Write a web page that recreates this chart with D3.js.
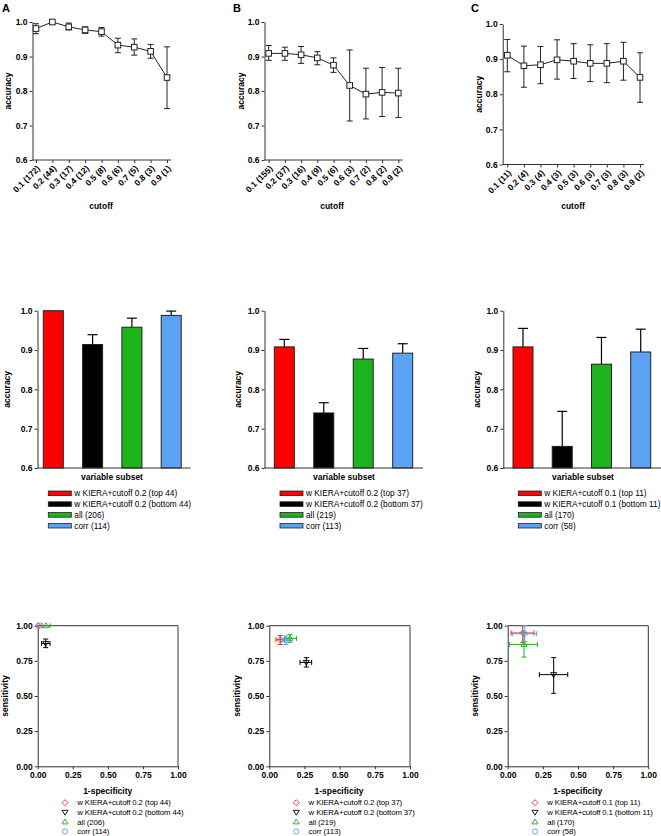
<!DOCTYPE html>
<html><head><meta charset="utf-8">
<script src="https://cdn.jsdelivr.net/npm/d3@7"></script>
<style>
body{margin:0;background:#fff}
text{font-family:"Liberation Sans",Arial,sans-serif}
</style>
</head><body>
<svg id="c" width="661" height="836"></svg>
<script>
// ---------- DATA ----------
const cutoffLabelsA = ["0.1  (172)","0.2  (44)","0.3  (17)","0.4  (12)","0.5  (8)","0.6  (6)","0.7  (5)","0.8  (3)","0.9  (1)"];
const accA   = [0.981,1.000,0.986,0.977,0.972,0.933,0.927,0.915,0.839];
const accLoA = [0.966,1.000,0.977,0.967,0.959,0.911,0.904,0.895,0.749];
const accHiA = [0.995,1.000,0.997,0.986,0.984,0.953,0.951,0.935,0.928];

const cutoffLabelsB = ["0.1  (155)","0.2  (37)","0.3  (16)","0.4  (9)","0.5  (6)","0.6  (3)","0.7  (2)","0.8  (2)","0.9  (2)"];
const accB   = [0.909,0.909,0.905,0.896,0.875,0.816,0.791,0.796,0.794];
const accLoB = [0.889,0.889,0.880,0.876,0.854,0.713,0.719,0.726,0.723];
const accHiB = [0.932,0.927,0.929,0.914,0.896,0.919,0.866,0.868,0.866];

const cutoffLabelsC = ["0.1 (11)","0.2 (4)","0.3 (4)","0.4 (3)","0.5 (3)","0.6 (3)","0.7 (3)","0.8 (3)","0.9 (2)"];
const accC   = [0.911,0.881,0.884,0.898,0.894,0.888,0.888,0.894,0.848];
const accLoC = [0.864,0.820,0.830,0.843,0.845,0.836,0.833,0.840,0.777];
const accHiC = [0.956,0.937,0.936,0.955,0.944,0.941,0.944,0.948,0.918];

const accTicks = [0.6,0.7,0.8,0.9,1.0];

const subsetNamesA = ["w KIERA+cutoff 0.2 (top 44)","w KIERA+cutoff 0.2 (bottom 44)","all (206)","corr (114)"];
const subsetAccA   = [1.000,0.914,0.958,0.988];
const subsetHiA    = [1.000,0.939,0.981,0.999];
const subsetNamesB = ["w KIERA+cutoff 0.2 (top 37)","w KIERA+cutoff 0.2 (bottom 37)","all (219)","corr (113)"];
const subsetAccB   = [0.908,0.740,0.877,0.892];
const subsetHiB    = [0.927,0.766,0.904,0.916];
const subsetNamesC = ["w KIERA+cutoff 0.1 (top 11)","w KIERA+cutoff 0.1 (bottom 11)","all (170)","corr (58)"];
const subsetAccC   = [0.908,0.655,0.864,0.895];
const subsetHiC    = [0.955,0.744,0.932,0.953];
const subsetColors = ["#ff0000","#000000","#1db31d","#5ba3f2"];
const markerColors = ["#e0282c","#000000","#22aa22","#5a9ee8"];
const markerShapes = ["diamond","triDown","triUp","circle"];

const fprA    = [0.003,0.057,0.059,0.017];
const fprLoA  = [0.003,0.028,0.035,0.017];
const fprHiA  = [0.003,0.088,0.088,0.017];
const sensA   = [1.000,0.874,1.000,1.000];
const sensLoA = [1.000,0.844,1.000,1.000];
const sensHiA = [1.000,0.905,1.000,1.000];

const fprB    = [0.078,0.263,0.147,0.118];
const fprLoB  = [0.047,0.218,0.111,0.095];
const fprHiB  = [0.107,0.301,0.194,0.147];
const sensB   = [0.900,0.739,0.910,0.898];
const sensLoB = [0.867,0.706,0.882,0.867];
const sensHiB = [0.931,0.773,0.938,0.927];

const fprC    = [0.107,0.327,0.116,0.121];
const fprLoC  = [0.024,0.225,0.014,0.033];
const fprHiC  = [0.187,0.427,0.211,0.206];
const sensC   = [0.948,0.652,0.867,0.943];
const sensLoC = [0.882,0.519,0.777,0.886];
const sensHiC = [1.000,0.773,0.950,1.000];

const rocTicks = [0,0.25,0.5,0.75,1];
const panelLetters = ["A","B","C"];

// ---------- DRAW ----------
const svg = d3.select("#c");
const AX = "#333";
const FS = 8.5;

function styleAxis(g){
  g.selectAll("path,line").attr("stroke",AX).attr("stroke-width",1);
  g.selectAll("text").attr("fill","#000").style("font-size",FS+"px").style("font-weight","bold");
}

// Panel letters
[[2,12],[233,12],[471,12]].forEach((p,i)=>{
  svg.append("text").attr("x",p[0]).attr("y",p[1]).text(panelLetters[i])
    .style("font-size","11px").style("font-weight","bold");
});

// --- Top line charts ---
const topPanels = [
  {ax:32.5, top:22, bot:160, x0:36, x1:167, xe:171, labels:cutoffLabelsA, v:accA, lo:accLoA, hi:accHiA, ylx:8.5, xlx:101},
  {ax:264.5, top:22, bot:160, x0:268.7, x1:398.3, xe:402.7, labels:cutoffLabelsB, v:accB, lo:accLoB, hi:accHiB, ylx:241, xlx:332},
  {ax:502.7, top:24, bot:164.5, x0:507.3, x1:640, xe:644, labels:cutoffLabelsC, v:accC, lo:accLoC, hi:accHiC, ylx:479, xlx:573}
];
topPanels.forEach(p=>{
  const g = svg.append("g");
  const y = d3.scaleLinear().domain([0.6,1.0]).range([p.bot,p.top]);
  const x = d3.scalePoint().domain(p.labels).range([p.x0,p.x1]);
  const ya = g.append("g").attr("transform",`translate(${p.ax},0)`)
    .call(d3.axisLeft(y).tickValues(accTicks).tickFormat(d3.format(".1f")).tickSize(3).tickSizeOuter(0).tickPadding(2));
  styleAxis(ya);
  const xa = g.append("g").attr("transform",`translate(0,${p.bot})`)
    .call(d3.axisBottom(x).tickSize(3).tickSizeOuter(0));
  xa.select(".domain").remove();
  styleAxis(xa);
  xa.selectAll(".tick text").attr("text-anchor","end").attr("x",-3.5).attr("y",6.3).attr("dy","0.35em")
    .attr("transform","rotate(-45)");
  g.append("line").attr("x1",p.ax).attr("x2",p.xe).attr("y1",p.bot).attr("y2",p.bot).attr("stroke",AX);
  p.labels.forEach((l,i)=>{
    const cx = x(l);
    if (p.hi[i]-p.lo[i] > 0.002){
      g.append("line").attr("x1",cx).attr("x2",cx).attr("y1",y(p.lo[i])).attr("y2",y(p.hi[i])).attr("stroke","#222");
      [p.lo[i],p.hi[i]].forEach(e=>g.append("line").attr("x1",cx-3).attr("x2",cx+3).attr("y1",y(e)).attr("y2",y(e)).attr("stroke","#222"));
    }
  });
  g.append("path").datum(p.v).attr("fill","none").attr("stroke","#222").attr("stroke-width",1)
    .attr("d",d3.line().x((d,i)=>x(p.labels[i])).y(d=>y(d)));
  p.v.forEach((d,i)=>{
    g.append("rect").attr("x",x(p.labels[i])-2.8).attr("y",y(d)-2.8).attr("width",5.6).attr("height",5.6)
      .attr("fill","#fff").attr("stroke","#222").attr("stroke-width",1);
  });
  g.append("text").attr("transform",`translate(${p.ylx},${(p.top+p.bot)/2}) rotate(-90)`)
    .attr("text-anchor","middle").attr("dy","0.35em").text("accuracy").style("font-size",FS+"px").style("font-weight","bold");
  g.append("text").attr("x",p.xlx).attr("y",206).attr("text-anchor","middle").attr("dy","0.35em")
    .text("cutoff").style("font-size",FS+"px").style("font-weight","bold");
});

// --- Middle bar charts ---
const barPanels = [
  {ax:37.5, c0:53.3, c1:171.2, xe:190.7, names:subsetNamesA, v:subsetAccA, hi:subsetHiA, ylx:7, xlx:112, sw:48.3},
  {ax:264.5, c0:284.3, c1:402.7, xe:423, names:subsetNamesB, v:subsetAccB, hi:subsetHiB, ylx:238.5, xlx:344, sw:280},
  {ax:503.3, c0:523, c1:640.7, xe:661, names:subsetNamesC, v:subsetAccC, hi:subsetHiC, ylx:477.5, xlx:583, sw:518.3}
];
const bTop = 310.7, bBot = 468;
barPanels.forEach(p=>{
  const g = svg.append("g");
  const y = d3.scaleLinear().domain([0.6,1.0]).range([bBot,bTop]);
  const x = d3.scalePoint().domain(p.names).range([p.c0,p.c1]);
  const bw = 20;
  p.names.forEach((n,i)=>{
    const cx = x(n);
    if (p.hi[i]-p.v[i] > 0.002){
      g.append("line").attr("x1",cx).attr("x2",cx).attr("y1",y(p.v[i])).attr("y2",y(p.hi[i])).attr("stroke","#000").attr("stroke-width",1.2);
      g.append("line").attr("x1",cx-5).attr("x2",cx+5).attr("y1",y(p.hi[i])).attr("y2",y(p.hi[i])).attr("stroke","#000").attr("stroke-width",1.2);
    }
    g.append("rect").attr("x",cx-bw/2).attr("y",y(p.v[i])).attr("width",bw).attr("height",bBot-y(p.v[i]))
      .attr("fill",subsetColors[i]).attr("stroke","#222").attr("stroke-width",1);
  });
  const ya = g.append("g").attr("transform",`translate(${p.ax},0)`)
    .call(d3.axisLeft(y).tickValues(accTicks).tickFormat(d3.format(".1f")).tickSize(3).tickSizeOuter(0).tickPadding(2));
  styleAxis(ya);
  g.append("line").attr("x1",p.ax).attr("x2",p.xe).attr("y1",bBot).attr("y2",bBot).attr("stroke",AX);
  g.append("text").attr("transform",`translate(${p.ylx},${(bTop+bBot)/2}) rotate(-90)`)
    .attr("text-anchor","middle").attr("dy","0.35em").text("accuracy").style("font-size",FS+"px").style("font-weight","bold");
  g.append("text").attr("x",p.xlx).attr("y",477).attr("text-anchor","middle").attr("dy","0.35em")
    .text("variable subset").style("font-size",FS+"px").style("font-weight","bold");
  p.names.forEach((n,i)=>{
    const yy = 493.3 + i*10.8;
    g.append("rect").attr("x",p.sw).attr("y",yy-2.3).attr("width",23).attr("height",4.6)
      .attr("fill",subsetColors[i]).attr("stroke","#222").attr("stroke-width",0.8);
    g.append("text").attr("x",p.sw+26).attr("y",yy).attr("dy","0.35em").text(n).style("font-size","8.3px");
  });
});

// --- Bottom ROC scatter ---
const rocPanels = [
  {x0:37.7, x1:178, fpr:fprA, fl:fprLoA, fh:fprHiA, s:sensA, sl:sensLoA, sh:sensHiA, names:subsetNamesA, ylx:5, xlx:107.7, mx:65},
  {x0:269.3, x1:410, fpr:fprB, fl:fprLoB, fh:fprHiB, s:sensB, sl:sensLoB, sh:sensHiB, names:subsetNamesB, ylx:236.7, xlx:339, mx:296.3},
  {x0:507.7, x1:648.3, fpr:fprC, fl:fprLoC, fh:fprHiC, s:sensC, sl:sensLoC, sh:sensHiC, names:subsetNamesC, ylx:475, xlx:577.7, mx:535}
];
const rTop = 625.7, rBot = 766.3;
function marker(g, shape, cx, cy, color){
  const r = 2.6;
  let el;
  if (shape==="circle") el = g.append("circle").attr("cx",cx).attr("cy",cy).attr("r",r);
  else if (shape==="diamond") el = g.append("path").attr("d",`M${cx},${cy-r-0.4}L${cx+r+0.4},${cy}L${cx},${cy+r+0.4}L${cx-r-0.4},${cy}Z`);
  else if (shape==="triUp") el = g.append("path").attr("d",`M${cx},${cy-r-0.3}L${cx+r+0.4},${cy+r-0.6}L${cx-r-0.4},${cy+r-0.6}Z`);
  else el = g.append("path").attr("d",`M${cx},${cy+r+0.3}L${cx+r+0.4},${cy-r+0.6}L${cx-r-0.4},${cy-r+0.6}Z`);
  el.attr("fill","none").attr("stroke",color).attr("stroke-width",0.9);
}
rocPanels.forEach(p=>{
  const g = svg.append("g");
  const x = d3.scaleLinear().domain([0,1]).range([p.x0,p.x1]);
  const y = d3.scaleLinear().domain([0,1]).range([rBot,rTop]);
  const xa = g.append("g").attr("transform",`translate(0,${rBot})`)
    .call(d3.axisBottom(x).tickValues(rocTicks).tickFormat(d3.format(".2f")).tickSize(3).tickSizeOuter(0).tickPadding(3));
  styleAxis(xa);
  const ya = g.append("g").attr("transform",`translate(${p.x0},0)`)
    .call(d3.axisLeft(y).tickValues(rocTicks).tickFormat(d3.format(".2f")).tickSize(3).tickSizeOuter(0).tickPadding(2));
  styleAxis(ya);
  g.append("line").attr("x1",p.x0).attr("x2",p.x1).attr("y1",rTop).attr("y2",rTop).attr("stroke",AX);
  g.append("line").attr("x1",p.x1).attr("x2",p.x1).attr("y1",rTop).attr("y2",rBot).attr("stroke",AX);
  p.fpr.forEach((d,i)=>{
    const c = markerColors[i];
    const cx = x(d), cy = y(p.s[i]);
    if (p.fh[i]-p.fl[i] > 0.002){
      g.append("line").attr("x1",x(p.fl[i])).attr("x2",x(p.fh[i])).attr("y1",cy).attr("y2",cy).attr("stroke",c);
      [p.fl[i],p.fh[i]].forEach(e=>g.append("line").attr("x1",x(e)).attr("x2",x(e)).attr("y1",cy-2.5).attr("y2",cy+2.5).attr("stroke",c));
    }
    if (p.sh[i]-p.sl[i] > 0.002){
      g.append("line").attr("x1",cx).attr("x2",cx).attr("y1",y(p.sl[i])).attr("y2",y(p.sh[i])).attr("stroke",c);
      [p.sl[i],p.sh[i]].forEach(e=>g.append("line").attr("x1",cx-2.5).attr("x2",cx+2.5).attr("y1",y(e)).attr("y2",y(e)).attr("stroke",c));
    }
    marker(g, markerShapes[i], cx, cy, c);
  });
  g.append("text").attr("transform",`translate(${p.ylx},${(rTop+rBot)/2}) rotate(-90)`)
    .attr("text-anchor","middle").attr("dy","0.35em").text("sensitivity").style("font-size",FS+"px").style("font-weight","bold");
  g.append("text").attr("x",p.xlx).attr("y",791).attr("text-anchor","middle").attr("dy","0.35em")
    .text("1-specificity").style("font-size",FS+"px").style("font-weight","bold");
  p.names.forEach((n,i)=>{
    const yy = 802.7 + i*9.6;
    marker(g, markerShapes[i], p.mx, yy, markerColors[i]);
    g.append("text").attr("x",p.mx+12.3).attr("y",yy).attr("dy","0.35em").text(n)
      .style("font-size","7.8px").style("letter-spacing","-0.12px");
  });
});
</script>
</body></html>
